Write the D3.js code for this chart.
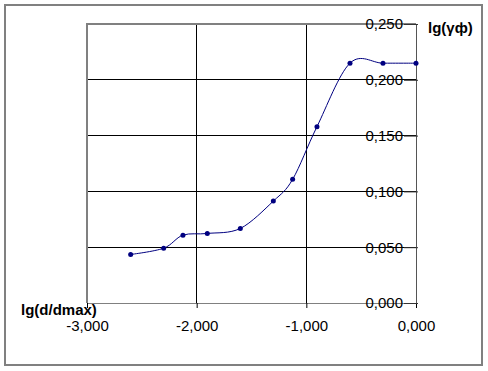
<!DOCTYPE html>
<html>
<head>
<meta charset="utf-8">
<script src="https://cdn.jsdelivr.net/npm/d3@7"></script>
<style>
  body { margin: 0; background: #fff; }
  svg { display: block; font-family: "Liberation Sans", Arial, sans-serif; }
</style>
</head>
<body>
<div id="chart"></div>
<script>
// lg(d/dmax) vs lg(γф)
var xValues = [-2.602, -2.301, -2.125, -1.903, -1.602, -1.301, -1.125, -0.903, -0.602, -0.301, 0.000];
var yValues = [0.0435, 0.0491, 0.0608, 0.0623, 0.0668, 0.0913, 0.1108, 0.1580, 0.2149, 0.2149, 0.2149];
var xTicks = [-3, -2, -1, 0];
var yTicks = [0, 0.05, 0.10, 0.15, 0.20, 0.25];

var W = 488, H = 371
  , plot = {left: 87, right: 416, top: 24, bottom: 303}
  , fmt = function(v) { return d3.format(".3f")(v).replace("−", "-").replace(".", ","); }
;

var svg = d3.select("#chart").append("svg")
    .attr("width", W)
    .attr("height", H)
;

// outer chart frame
svg.append("rect")
    .attr("x", 5).attr("y", 5)
    .attr("width", 477).attr("height", 360)
    .attr("fill", "#fff")
    .attr("stroke", "#808080")
    .attr("stroke-width", 2)
;

var x = d3.scaleLinear().domain([-3, 0]).range([plot.left, plot.right]);
var y = d3.scaleLinear().domain([0, 0.25]).range([plot.bottom, plot.top]);

// gridlines
svg.append("g").selectAll("line")
    .data(xTicks.slice(1, -1))
  .enter().append("line")
    .attr("x1", function(d) { return x(d); })
    .attr("x2", function(d) { return x(d); })
    .attr("y1", plot.top).attr("y2", plot.bottom)
    .attr("stroke", "#000")
    .attr("shape-rendering", "crispEdges")
;
svg.append("g").selectAll("line")
    .data(yTicks.slice(1, -1))
  .enter().append("line")
    .attr("x1", plot.left).attr("x2", plot.right)
    .attr("y1", function(d) { return y(d); })
    .attr("y2", function(d) { return y(d); })
    .attr("stroke", "#000")
    .attr("shape-rendering", "crispEdges")
;

// plot area border
svg.append("path")
    .attr("d", "M" + plot.right + "," + plot.top + "H" + plot.left + "V" + plot.bottom)
    .attr("fill", "none")
    .attr("stroke", "#808080")
    .attr("stroke-width", 2)
;

// x axis along y = 0
var xAxis = d3.axisBottom(x)
    .tickValues(xTicks)
    .tickSize(5)
    .tickPadding(12)
    .tickFormat(fmt)
;
var gx = svg.append("g")
    .attr("transform", "translate(0," + plot.bottom + ")")
    .call(xAxis)
;
gx.select(".domain").attr("stroke", "#808080");
gx.selectAll(".tick line").attr("stroke", "#000");
gx.selectAll(".tick text")
    .attr("font-size", 15)
    .attr("font-family", "Liberation Sans, Arial, sans-serif")
    .attr("fill", "#000")
;

// y axis along x = 0 (labels to the left, inside the plot)
var yAxis = d3.axisLeft(y)
    .tickValues(yTicks)
    .tickSizeInner(12)
    .tickSizeOuter(0)
    .tickPadding(1)
    .tickFormat(fmt)
;
var gy = svg.append("g")
    .attr("transform", "translate(" + plot.right + ",0)")
    .call(yAxis)
;
gy.select(".domain").attr("stroke", "#555");
gy.selectAll(".tick line").attr("stroke", "#333").attr("x2", 2).attr("x1", -12);
gy.selectAll(".tick text")
    .attr("font-size", 15)
    .attr("font-family", "Liberation Sans, Arial, sans-serif")
    .attr("fill", "#000")
;

// axis titles
svg.append("text")
    .attr("x", 428).attr("y", 33)
    .attr("font-size", 15)
    .attr("font-weight", "bold")
    .text("lg(γф)")
;
svg.append("text")
    .attr("x", 21).attr("y", 315)
    .attr("font-size", 15)
    .attr("font-weight", "bold")
    .text("lg(d/dmax)")
;

// series
var pts = xValues.map(function(d, i) { return [d, yValues[i]]; });
var line = d3.line()
    .x(function(d) { return x(d[0]); })
    .y(function(d) { return y(d[1]); })
    .curve(d3.curveCardinal.tension(0))
;
svg.append("path")
    .datum(pts)
    .attr("d", line)
    .attr("fill", "none")
    .attr("stroke", "#000080")
    .attr("stroke-width", 1)
;
svg.append("g").selectAll("circle")
    .data(pts)
  .enter().append("circle")
    .attr("cx", function(d) { return x(d[0]); })
    .attr("cy", function(d) { return y(d[1]); })
    .attr("r", 2.5)
    .attr("fill", "#000080")
;
</script>
</body>
</html>
